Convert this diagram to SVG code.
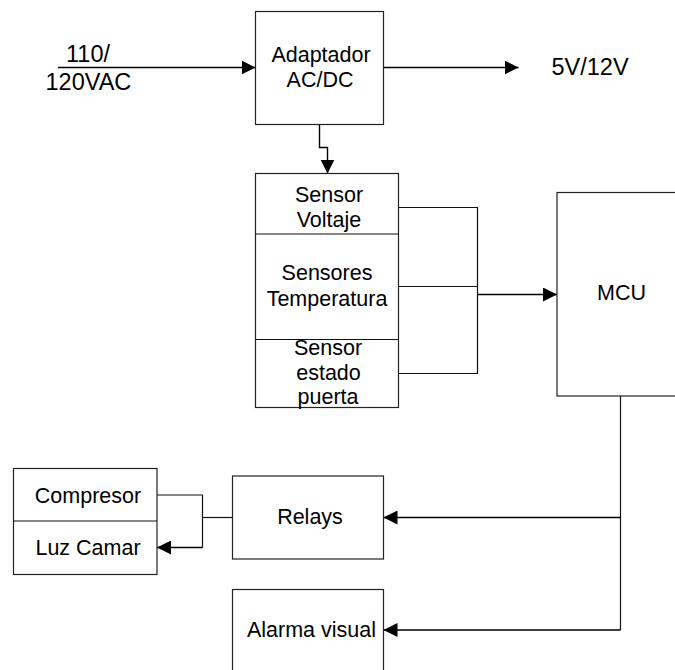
<svg xmlns="http://www.w3.org/2000/svg" width="675" height="670" viewBox="0 0 675 670">
<defs>
<marker id="arr" markerUnits="userSpaceOnUse" markerWidth="15" markerHeight="14" refX="14" refY="7" orient="auto">
<path d="M0,0 L14,7 L0,14 Z" fill="#000"/>
</marker>
<style>
.box{fill:#fff;stroke:#222;stroke-width:1.2}
.t{font-family:"Liberation Sans",Arial,sans-serif;font-size:21.5px;fill:#000;text-anchor:middle}
.lbl{font-family:"Liberation Sans",Arial,sans-serif;font-size:23.5px;fill:#000}
.c{fill:none;stroke:#111;stroke-width:1.2}
.ca{fill:none;stroke:#000;stroke-width:1.4;marker-end:url(#arr)}
</style>
</defs>
<rect width="675" height="670" fill="#fff"/>
<g id="connectors">
<path class="ca" d="M58,67.5 H255.5"/>
<path class="ca" d="M383.5,67.5 H518.5"/>
<path class="ca" d="M319.5,124.5 V147.5 H327.5 V173.5"/>
<path class="c" d="M398.5,207.5 H477.5 V373.5 H398.5 M398.5,286.5 H477.5"/>
<path class="ca" stroke-width="2" d="M477.5,294.5 H557"/>
<path class="c" d="M620.5,396 V630"/>
<path class="ca" d="M620.5,517.5 H383.5"/>
<path class="ca" d="M620.5,630 H383.5"/>
<path class="c" d="M157,495 H202.5 V547.5"/>
<path class="ca" d="M202.5,547.5 H157"/>
<path class="c" d="M202.5,517.5 H232.5"/>
</g>
<g id="label-input">
<text class="lbl" x="66" y="61.5">110/</text>
<text class="lbl" x="45.5" y="89.5">120VAC</text>
</g>
<g id="label-output">
<text class="lbl" x="551.5" y="75">5V/12V</text>
</g>
<g id="adaptador">
<rect class="box" x="255.5" y="11.5" width="128" height="113"/>
<text class="t" x="321" y="61.5">Adaptador</text>
<text class="t" x="320" y="87">AC/DC</text>
</g>
<g id="sensores">
<rect class="box" x="255.5" y="173.5" width="143" height="234"/>
<line class="c" x1="255.5" y1="234" x2="398.5" y2="234"/>
<line class="c" x1="255.5" y1="339.5" x2="398.5" y2="339.5"/>
<text class="t" x="329" y="201.5">Sensor</text>
<text class="t" x="329" y="226.5">Voltaje</text>
<text class="t" x="327" y="280">Sensores</text>
<text class="t" x="327" y="306">Temperatura</text>
<text class="t" x="328" y="355">Sensor</text>
<text class="t" x="328.5" y="379.5">estado</text>
<text class="t" x="328" y="404">puerta</text>
</g>
<g id="mcu">
<rect class="box" x="557" y="192.5" width="150" height="203.5"/>
<text class="t" x="621.5" y="300">MCU</text>
</g>
<g id="relays">
<rect class="box" x="232.5" y="476" width="151" height="83"/>
<text class="t" x="310" y="524">Relays</text>
</g>
<g id="alarma">
<rect class="box" x="232.5" y="589.5" width="151" height="100"/>
<text class="t" x="311.5" y="636.5">Alarma visual</text>
</g>
<g id="cargas">
<rect class="box" x="13.5" y="468.5" width="143.5" height="106"/>
<line class="c" x1="13.5" y1="521" x2="157" y2="521"/>
<text class="t" x="88" y="502.5">Compresor</text>
<text class="t" x="88" y="554.5">Luz Camar</text>
</g>
</svg>
